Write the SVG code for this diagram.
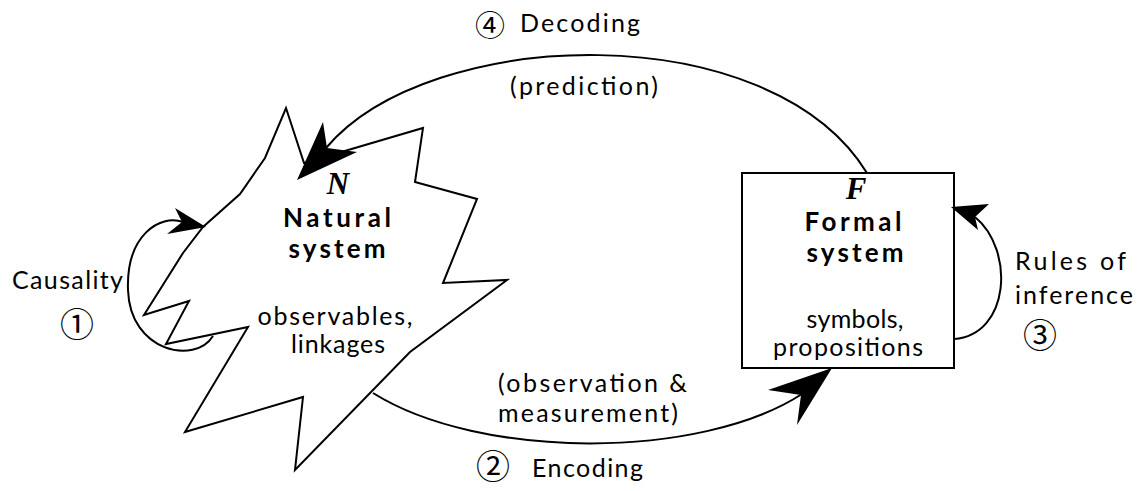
<svg xmlns="http://www.w3.org/2000/svg" width="1141" height="491" viewBox="0 0 1141 491">
<style>
.t{font-family:Lato,"Open Sans","Liberation Sans",sans-serif;font-size:25px;fill:#000}
.b{font-weight:bold;font-size:26px}
.m{text-anchor:middle}
.v{font-family:"Liberation Serif","DejaVu Serif",serif;font-style:italic;font-weight:bold;font-size:31px;text-anchor:middle}
.c{font-family:"Noto Sans CJK JP","DejaVu Sans",sans-serif;font-size:34px}
.ln{fill:none;stroke:#000;stroke-width:2}
.ah{fill:#000;stroke:none}
</style>
<rect width="1141" height="491" fill="#fff"/>
<g id="natural">
<polygon class="ln" fill="#fff" points="286,108 304,163 423,128 415,182 477,199 443,283 507,280 410,352 295,470 303,397 185,432 248,327 166,344 189,301 144,315 183,253 203,227 240,194 265,158"/>
<text class="v" x="338" y="194">N</text>
<text class="t b m" x="337" y="227" textLength="108">Natural</text>
<text class="t b m" x="337" y="258" textLength="97">system</text>
<text class="t m" x="335" y="325" textLength="155">observables,</text>
<text class="t m" x="338" y="353" textLength="94">linkages</text>
</g>
<g id="formal">
<rect class="ln" x="742" y="173" width="212" height="195"/>
<text class="v" x="856" y="199">F</text>
<text class="t b m" x="853" y="231" textLength="97">Formal</text>
<text class="t b m" x="855" y="262" textLength="97">system</text>
<text class="t m" x="855" y="328" textLength="97">symbols,</text>
<text class="t m" x="848" y="356" textLength="150">propositions</text>
</g>
<g id="connectors">
<path class="ln" d="M213,336 C195,365 130,352 128,290 C126,235 160,214 183,222"/>
<polygon class="ah" points="206,227 175,208 182,222 167,234"/>
<path class="ln" d="M867,173 C770,15 430,25 326,148"/>
<polygon class="ah" points="297,180 323,122 327,148 357,152"/>
<path class="ln" d="M373,393 C480,460 700,460 802,394"/>
<polygon class="ah" points="832,368 768,390 801,395 797,425"/>
<path class="ln" d="M954,339 C1010,335 1015,250 975,217"/>
<polygon class="ah" points="951,207 989,204 975,217 978,230"/>
</g>
<g id="labels">
<text class="t" x="12" y="289" textLength="111">Causality</text>
<text class="c m" x="77" y="337">①</text>
<text class="t"><tspan class="c" style="font-size:30px" x="475" y="36">④</tspan><tspan x="520" y="32" textLength="120">Decoding</tspan></text>
<text class="t m" x="584" y="95" textLength="148">(prediction)</text>
<text class="t" x="498" y="392" textLength="189">(observation &amp;</text>
<text class="t" x="498" y="422" textLength="180">measurement)</text>
<text class="t"><tspan class="c" x="476" y="479">②</tspan><tspan x="532" y="477" textLength="111">Encoding</tspan></text>
<text class="t" x="1015" y="270" textLength="111">Rules of</text>
<text class="t" x="1015" y="304" textLength="118">inference</text>
<text class="c m" x="1040" y="348">③</text>
</g>
</svg>
